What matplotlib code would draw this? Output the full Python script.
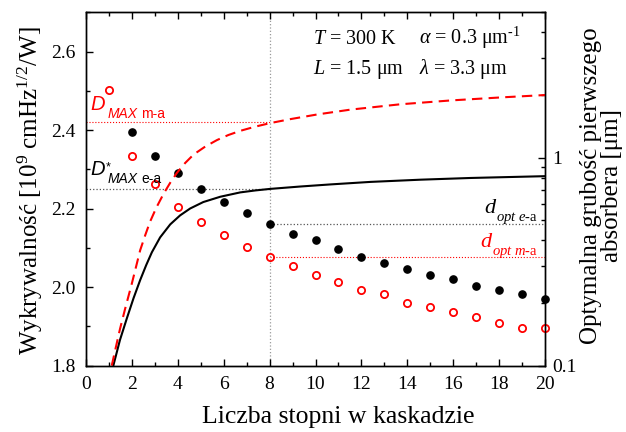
import matplotlib
matplotlib.use("Agg")
import matplotlib.pyplot as plt
from matplotlib.ticker import MultipleLocator, FuncFormatter, NullFormatter, LogLocator
import numpy as np

plt.rcParams['font.family'] = ['Liberation Serif', 'DejaVu Serif']
plt.rcParams['mathtext.fontset'] = 'custom'
plt.rcParams['mathtext.rm'] = 'Liberation Serif'
plt.rcParams['mathtext.it'] = 'Liberation Serif:italic'
plt.rcParams['mathtext.bf'] = 'Liberation Serif:bold'

# detectivity points (left axis)
stages_ea = np.arange(2, 21)
det_ea = [2.394, 2.334, 2.290, 2.251, 2.216, 2.188, 2.161, 2.136, 2.121, 2.096,
          2.076, 2.062, 2.047, 2.030, 2.021, 2.002, 1.994, 1.982, 1.970]
stages_ma = np.arange(1, 21)
det_ma = [2.502, 2.333, 2.262, 2.205, 2.166, 2.132, 2.102, 2.076, 2.053, 2.030,
          2.012, 1.993, 1.982, 1.960, 1.949, 1.936, 1.923, 1.909, 1.895, 1.895]

# optimal thickness of first absorber (right axis, log)
n_ea = [1.19, 1.48, 1.78, 2.07, 2.36, 2.62, 2.87, 3.23, 3.67, 4.10, 4.54, 5.11,
        5.85, 6.72, 7.38, 8.03, 9.35, 10.66, 12.40, 14.59, 16.77, 20.0]
d_ea = [0.100, 0.133, 0.169, 0.211, 0.258, 0.304, 0.351, 0.414, 0.478, 0.528,
        0.570, 0.612, 0.649, 0.681, 0.696, 0.708, 0.727, 0.744, 0.765, 0.784,
        0.799, 0.815]
n_ma = [1.12, 1.31, 1.48, 1.70, 2.00, 2.19, 2.36, 2.58, 2.79, 3.06, 3.38, 3.67,
        3.96, 4.32, 4.69, 5.20, 5.71, 6.20, 6.73, 7.38, 8.03, 8.91, 10.09, 11.53,
        13.71, 15.90, 18.08, 20.0]
d_ma = [0.100, 0.124, 0.150, 0.187, 0.249, 0.302, 0.359, 0.424, 0.492, 0.574,
        0.671, 0.758, 0.845, 0.943, 1.036, 1.132, 1.216, 1.285, 1.347, 1.411,
        1.467, 1.533, 1.615, 1.703, 1.807, 1.885, 1.949, 2.001]

# reference levels at 8 stages
n_ref = 8
dmax_ea = 2.25
dmax_ma = 2.42
dopt_ea = 2.161
dopt_ma = 2.076

fig = plt.figure(figsize=(6.26, 4.32), dpi=100)
ax = fig.add_axes([0.1374, 0.1535, 0.7332, 0.818])
ax2 = ax.twinx()

# dotted guide lines
ax.axvline(n_ref, color='#999999', ls=':', lw=0.9, zorder=1)
ax.hlines(dmax_ea, 0, n_ref, color='#555555', ls=':', lw=0.9, zorder=1)
ax.hlines(dmax_ma, 0, n_ref, color='red', ls=':', lw=0.8, zorder=1)
ax.hlines(dopt_ea, n_ref, 20, color='#555555', ls=':', lw=0.9, zorder=1)
ax.hlines(dopt_ma, n_ref, 20, color='red', ls=':', lw=0.8, zorder=1)

ax.plot(stages_ea, det_ea, 'o', color='black', ms=5.2, zorder=3, clip_on=False)
ax.plot(stages_ma, det_ma, 'o', mfc='none', mec='red', mew=1.3, ms=5.2, zorder=3,
        clip_on=False)

ax2.plot(n_ea, d_ea, '-', color='black', lw=1.5)
ax2.plot(n_ma, d_ma, color='red', lw=1.5, ls=(0, (5, 3)))

ax.set_xlim(0, 20)
ax.set_ylim(1.8, 2.7)
ax2.set_yscale('log')
ax2.set_ylim(0.1, 5)

ax.xaxis.set_major_locator(MultipleLocator(2))
ax.xaxis.set_minor_locator(MultipleLocator(1))
ax.yaxis.set_major_locator(MultipleLocator(0.2))
ax.yaxis.set_minor_locator(MultipleLocator(0.1))
ax.yaxis.set_major_formatter(FuncFormatter(lambda v, p: f'{v:.1f}'))
ax2.yaxis.set_major_locator(LogLocator(base=10))
ax2.yaxis.set_minor_locator(LogLocator(base=10, subs=np.arange(2, 10)))
ax2.yaxis.set_major_formatter(FuncFormatter(lambda v, p: f'{v:g}'))
ax2.yaxis.set_minor_formatter(NullFormatter())

ax.tick_params(which='both', direction='in', top=True, right=False, labelsize=14,
               width=1.0, pad=7.5)
ax.tick_params(which='major', length=5)
ax.tick_params(which='minor', length=3)
ax2.tick_params(which='both', direction='in', labelsize=14, width=1.0, pad=5)
ax2.tick_params(which='major', length=5)
ax2.tick_params(which='minor', length=3)
for a in (ax, ax2):
    for s in a.spines.values():
        s.set_linewidth(1.0)

ax.set_xlabel('Liczba stopni w kaskadzie', fontsize=18.5)
ax.xaxis.set_label_coords(0.549, -0.115)
ax.set_ylabel('Wykrywalność [10$^9$ cmHz$^{1/2}$/W]', fontsize=18)
ax.yaxis.set_label_coords(-0.09, 0.495)
ax2.set_ylabel('Optymalna grubość pierwszego\nabsorbera [μm]', fontsize=18,
               rotation=90, linespacing=0.95)
ax2.yaxis.set_label_coords(1.076, 0.51)

# parameters
ax.text(9.91, 2.619, '$T$ = 300 K', fontsize=14.5)
ax.text(14.5, 2.619, r'$\alpha$ = 0.3 μm$^{\text{-}1}$', fontsize=14.5)
ax.text(9.91, 2.543, '$L$ = 1.5 μm', fontsize=14.5)
ax.text(14.5, 2.543, r'$\lambda$ = 3.3 μm', fontsize=14.5)

# D*max labels, subscripts attached to the D
sans = ['Liberation Sans', 'DejaVu Sans']
for col, yD, sub in [('red', 2.466, 'm-a'), ('black', 2.30, 'e-a')]:
    tD = ax.text(0.2, yD, 'D', color=col, fontsize=14.5, family=sans,
                 style='italic', va='center')
    if col == 'black':
        ax.annotate('*', xy=(1, 1), xycoords=tD, xytext=(0.5, -1),
                    textcoords='offset points', ha='left', va='top',
                    fontsize=9, family=sans, color=col)
    tM = ax.annotate('MAX', xy=(1, 0), xycoords=tD, xytext=(1.5, 0),
                     textcoords='offset points', ha='left', va='center',
                     fontsize=10, family=sans, style='italic', color=col)
    ax.annotate(sub, xy=(1, 0.5), xycoords=tM, xytext=(3, 0),
                textcoords='offset points', ha='left', va='center',
                fontsize=10, family=sans, color=col)

# d_opt labels
ax.text(17.33, 2.188, '$d$', fontsize=16)
ax.text(17.85, 2.168, '$opt\\ e$-a', fontsize=10.5)
ax.text(17.18, 2.102, '$d$', fontsize=16, color='red')
ax.text(17.7, 2.082, '$opt\\ m$-a', fontsize=10.5, color='red')

fig.savefig('out.png', dpi=100)
